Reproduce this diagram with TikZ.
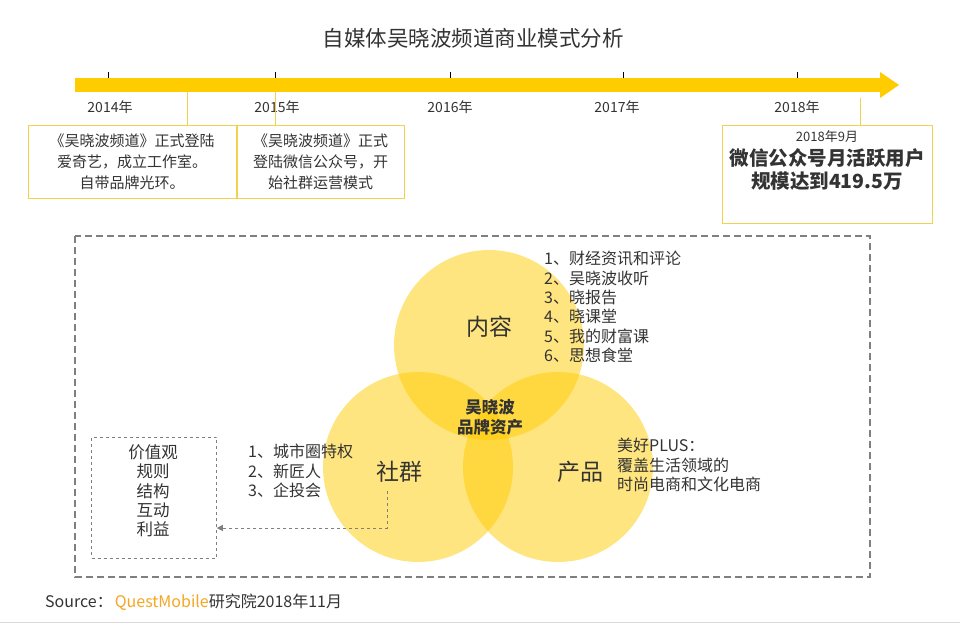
\documentclass[tikz,border=0pt]{standalone}
\usepackage{fontspec}
\setmainfont{Noto Sans CJK SC}
\usetikzlibrary{arrows.meta}
\definecolor{txt}{HTML}{333333}
\definecolor{gold}{HTML}{FFCC00}
\definecolor{linegold}{HTML}{F2D24A}
\definecolor{dgray}{HTML}{7F7F7F}
\definecolor{qm}{HTML}{F5A623}
\definecolor{circ}{HTML}{FFCC00}
\tikzset{
  yr/.style={font=\fontsize{14}{14}\selectfont, text=txt},
  evbox/.style={draw=linegold, line width=0.8pt, align=center, font=\fontsize{15}{21}\selectfont, text=txt, inner sep=0pt},
  tickline/.style={draw=black, line width=0.6pt},
  conn/.style={draw=linegold, line width=1pt},
  venn/.style={fill=circ, fill opacity=0.5, draw=none},
  lbl/.style={font=\fontsize{23}{23}\selectfont, text=txt},
  lst/.style={align=left, anchor=north west, font=\fontsize{16}{19.4}\selectfont, text=txt, inner sep=0pt},
}
\begin{document}
\begin{tikzpicture}[x=1pt,y=-1pt]
\useasboundingbox (0,0) rectangle (960,624);
\fill[white] (0,0) rectangle (960,624);
% title
\node[font=\fontsize{21.5}{21.5}\selectfont, text=txt] (title) at (473,38) {自媒体吴晓波频道商业模式分析};
% timeline bar
\fill[gold] (75,78) rectangle (882,92);
\fill[gold] (880,72) -- (899,85) -- (880,98) -- cycle;
% ticks
\foreach \x/\n in {108/a,275/b,450/c,623/d,797/e}{
  \coordinate (t\n) at (\x,72);
  \coordinate (u\n) at (\x,78);
  \draw[tickline] (t\n) -- (u\n);
}
\node[yr] (y14) at (110,107) {2014年};
\node[yr] (y15) at (277,107) {2015年};
\node[yr] (y16) at (450,107) {2016年};
\node[yr] (y17) at (617,107) {2017年};
\node[yr] (y18) at (797,107) {2018年};
% event boxes
\node[evbox, minimum width=208pt, minimum height=73pt] (e1) at (132,161.5) {《吴晓波频道》正式登陆\\爱奇艺，成立工作室。\\自带品牌光环。};
\node[evbox, minimum width=167pt, minimum height=73pt] (e2) at (320.5,161.5) {《吴晓波频道》正式\\登陆微信公众号，开\\始社群运营模式};
\node[evbox, minimum width=210pt, minimum height=98pt] (e3) at (827,174) {};
\node[font=\fontsize{13}{13}\selectfont, text=txt] (e3a) at (827,137) {2018年9月};
\node[font=\fontsize{19.5}{23}\selectfont\bfseries, text=txt, align=center] (e3b) at (827,170) {微信公众号月活跃用户\\规模达到419.5万};
\coordinate (c1) at (187,92);
\coordinate (c2) at (275,92);
\coordinate (c3) at (860,98);
\draw[conn] (c1) -- (c1 |- e1.north);
\draw[conn] (c2) -- (c2 |- e2.north);
\draw[conn] (c3) -- (c3 |- e3.north);
% dashed frame
\draw[dgray, line width=2.2pt, dash pattern=on 7pt off 4pt] (75,236) rectangle (870,577);
% venn
\fill[venn] (489,345) circle (95);
\fill[venn] (418,467) circle (95);
\fill[venn] (558,467) circle (95);
\node[lbl] (nr) at (489,327) {内容};
\node[lbl] (sq) at (399,472) {社群};
\node[lbl] (cp) at (580,472) {产品};
\node[font=\fontsize{16.5}{20}\selectfont\bfseries, text=txt, align=center] (core) at (490,417) {吴晓波\\品牌资产};
% lists
\node[lst] (l1) at (544,251) {1、财经资讯和评论\\2、吴晓波收听\\3、晓报告\\4、晓课堂\\5、我的财富课\\6、思想食堂};
\node[lst] (l2) at (617,438) {美好PLUS：\\覆盖生活领域的\\时尚电商和文化电商};
\node[lst] (l3) at (248,444) {1、城市圈特权\\2、新匠人\\3、企投会};
% values box
\node[draw=dgray, dashed, line width=0.6pt, minimum width=125pt, minimum height=121pt, inner sep=0pt] (vb) at (154,497.5) {};
\node[align=center, font=\fontsize{16.5}{19.3}\selectfont, text=txt, anchor=north] (vt) at (153,441) {价值观\\规则\\结构\\互动\\利益};
\coordinate (as) at (387,491);
\draw[dgray, dashed, line width=0.6pt, -{Triangle[length=6pt,width=6pt]}] (as) |- (vb.east |- 0,528);
% source
\node[anchor=west, font=\fontsize{16}{16}\selectfont, inner sep=0pt] (src) at (45,602) {\textcolor{txt}{Source：}\hspace{2pt}\textcolor{qm}{QuestMobile}\textcolor{txt}{研究院2018年11月}};
\draw[black!15, line width=1pt] (0,622) -- (960,622);
\end{tikzpicture}
\end{document}
